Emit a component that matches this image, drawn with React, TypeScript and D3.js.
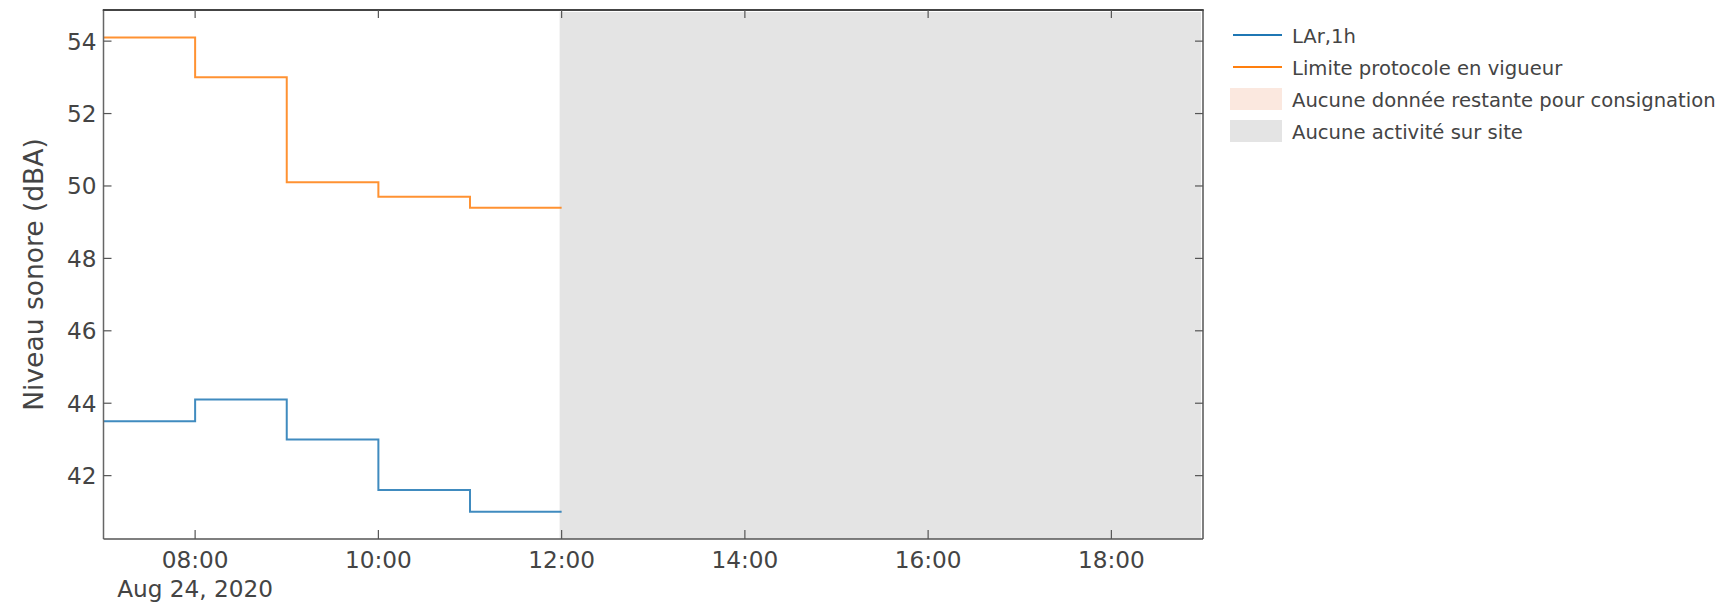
import React from "react";
import * as d3 from "d3";

const hours = ["07:00", "08:00", "09:00", "10:00", "11:00", "12:00"];
const larValues = [43.5, 44.1, 43.0, 41.6, 41.0, 41.0];
const limiteValues = [54.1, 53.0, 50.1, 49.7, 49.4, 49.4];
const inactiveStart = "12:00";
const inactiveEnd = "19:00";
const xDomain = ["07:00", "19:00"];
const yDomain = [40.25, 54.86];
const yTicks = [42, 44, 46, 48, 50, 52, 54];
const xTicks = ["08:00", "10:00", "12:00", "14:00", "16:00", "18:00"];
const dateLabel = "Aug 24, 2020";
const yTitle = "Niveau sonore (dBA)";
const legendItems = [
  { label: "LAr,1h", kind: "line", color: "#1f77b4" },
  { label: "Limite protocole en vigueur", kind: "line", color: "#ff7f0e" },
  { label: "Aucune donnée restante pour consignation", kind: "rect", color: "#fbe8df" },
  { label: "Aucune activité sur site", kind: "rect", color: "#e4e4e4" },
];

const toDate = (h: string) => {
  const [hh, mm] = h.split(":").map(Number);
  return new Date(2020, 7, 24, hh, mm);
};

const W = 1734;
const H = 604;
const L = 103.5;
const R = 1203;
const T = 10;
const B = 539;
const FONT = "'DejaVu Sans', Verdana, sans-serif";
const TXT = "#444";

export default function App() {
  const x = d3.scaleTime().domain(xDomain.map(toDate)).range([L, R]);
  const y = d3.scaleLinear().domain(yDomain).range([B, T]);
  const fmt = d3.timeFormat("%H:%M");

  const line = d3
    .line<[Date, number]>()
    .x((d) => x(d[0]))
    .y((d) => y(d[1]))
    .curve(d3.curveStepAfter);

  const larPts = hours.map((h, i) => [toDate(h), larValues[i]] as [Date, number]);
  const limPts = hours.map((h, i) => [toDate(h), limiteValues[i]] as [Date, number]);

  const gx0 = x(toDate(inactiveStart));
  const gx1 = x(toDate(inactiveEnd));

  return (
    <svg
      width={W}
      height={H}
      style={{ position: "absolute", left: 0, top: 0, display: "block", background: "#fff" }}
      fontFamily={FONT}
    >
      <rect x={gx0 - 2} y={T + 2} width={gx1 - gx0} height={B - T - 2} fill="#e4e4e4" />

      <path d={line(limPts) || ""} fill="none" stroke="#ff7f0e" strokeWidth={2} opacity={0.85} />
      <path d={line(larPts) || ""} fill="none" stroke="#1f77b4" strokeWidth={2} opacity={0.85} />

      {/* frame */}
      <line x1={L} x2={L} y1={T} y2={B} stroke="#666" strokeWidth={1.5} />
      <line x1={R} x2={R} y1={T} y2={B} stroke="#555" strokeWidth={1.5} />
      <line x1={L} x2={R} y1={B} y2={B} stroke="#555" strokeWidth={1.5} />
      <line x1={L - 0.75} x2={R + 0.75} y1={T} y2={T} stroke="#444" strokeWidth={2} />

      {/* y ticks */}
      {yTicks.map((t) => (
        <g key={"y" + t}>
          <line x1={L} x2={L + 8} y1={y(t)} y2={y(t)} stroke="#555" strokeWidth={1.2} />
          <line x1={R - 8} x2={R} y1={y(t)} y2={y(t)} stroke="#555" strokeWidth={1.2} />
          <text
            x={L - 7}
            y={y(t)}
            textAnchor="end"
            dominantBaseline="central"
            fontSize={23.2}
            fill={TXT}
          >
            {t}
          </text>
        </g>
      ))}

      {/* x ticks */}
      {xTicks.map((h, i) => {
        const xv = x(toDate(h));
        return (
          <g key={"x" + h}>
            <line x1={xv} x2={xv} y1={B - 9} y2={B} stroke="#555" strokeWidth={1.2} />
            <line x1={xv} x2={xv} y1={T} y2={T + 8} stroke="#555" strokeWidth={1.2} />
            <text x={xv} y={568} textAnchor="middle" fontSize={23.2} fill={TXT}>
              {fmt(toDate(h))}
            </text>
            {i === 0 && (
              <text x={xv} y={597} textAnchor="middle" fontSize={23.2} fill={TXT}>
                {dateLabel}
              </text>
            )}
          </g>
        );
      })}

      <text
        transform={`translate(33,${(T + B) / 2}) rotate(-90)`}
        textAnchor="middle"
        dominantBaseline="central"
        fontSize={26.5}
        fill={TXT}
      >
        {yTitle}
      </text>

      {/* legend */}
      {legendItems.map((it, i) => {
        const cy = 35 + i * 32;
        return (
          <g key={it.label}>
            {it.kind === "line" ? (
              <line x1={1233} x2={1282} y1={cy} y2={cy} stroke={it.color} strokeWidth={2} />
            ) : (
              <rect x={1230} y={cy - 11} width={52} height={22} fill={it.color} />
            )}
            <text x={1292} y={cy + 1} dominantBaseline="central" fontSize={19.6} fill={TXT}>
              {it.label}
            </text>
          </g>
        );
      })}
    </svg>
  );
}
